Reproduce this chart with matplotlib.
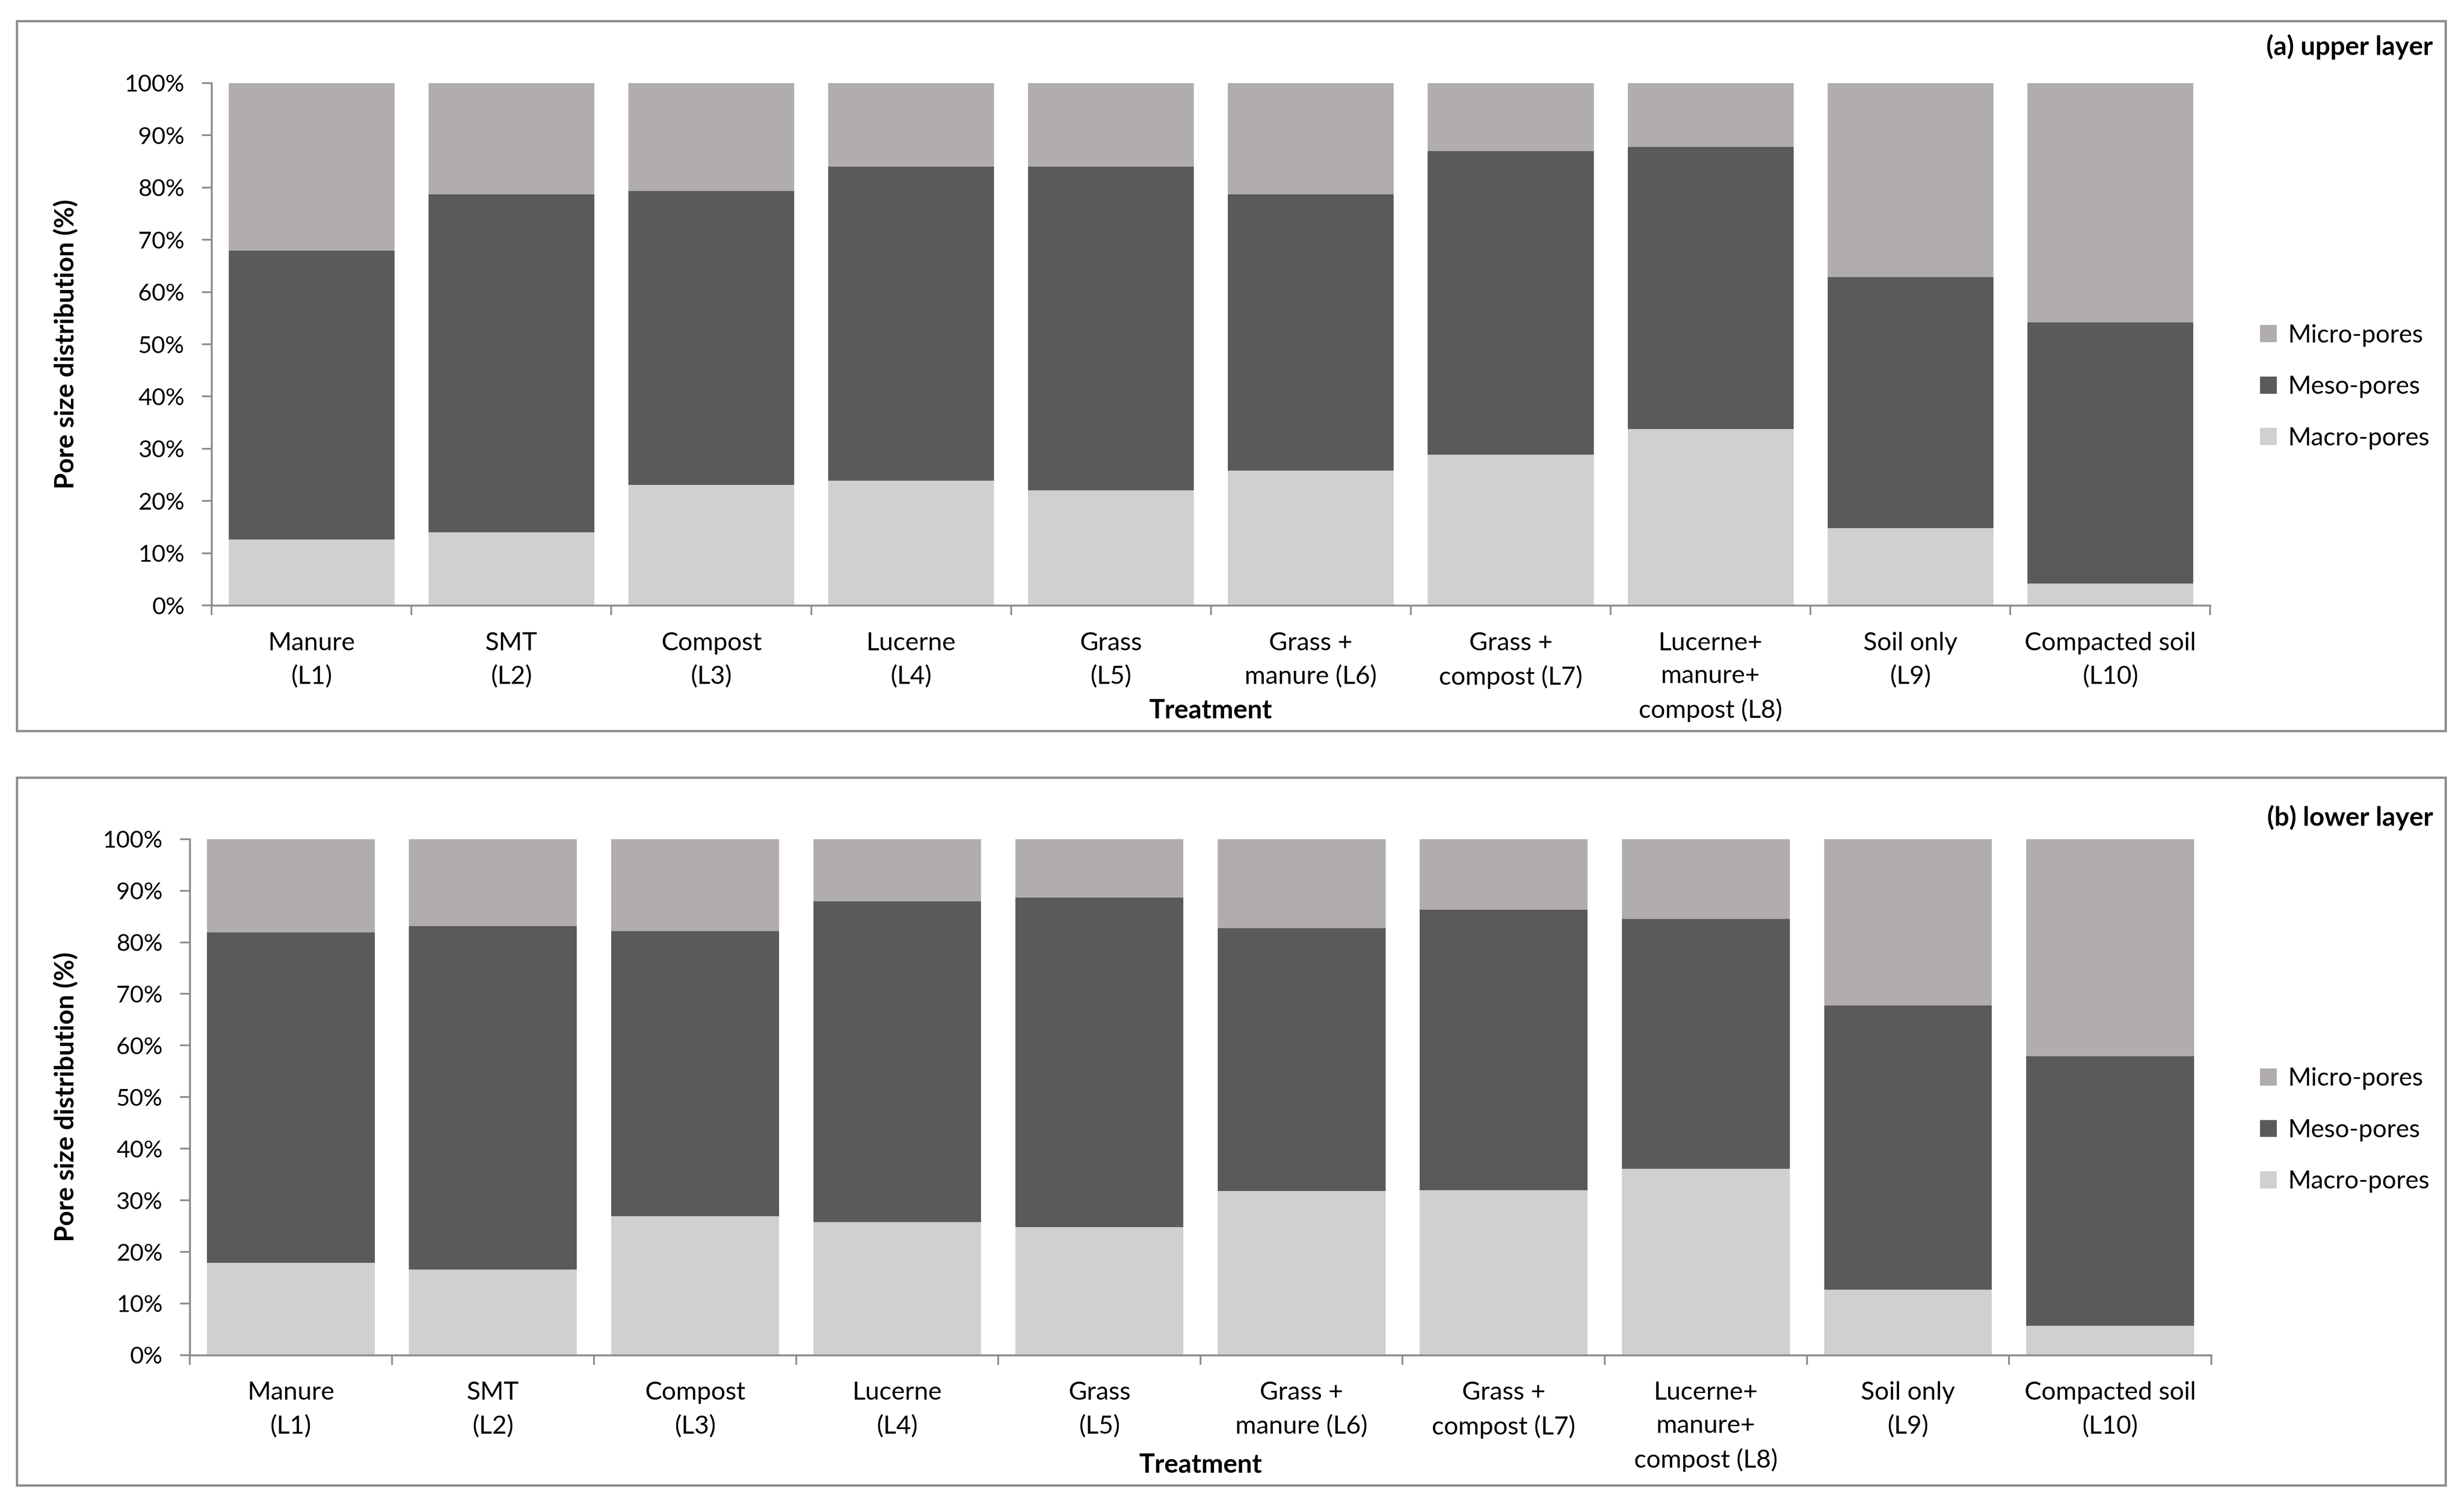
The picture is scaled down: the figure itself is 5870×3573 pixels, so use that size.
import matplotlib
matplotlib.use("Agg")
import matplotlib.pyplot as plt
from matplotlib.patches import Rectangle
import numpy as np

plt.rcParams['font.family'] = ['Lato', 'DejaVu Sans']

# treatments
labels = ["Manure\n(L1)", "SMT\n(L2)", "Compost\n(L3)", "Lucerne\n(L4)", "Grass\n(L5)",
          "Grass +\nmanure (L6)", "Grass +\ncompost (L7)", "Lucerne+\nmanure+\ncompost (L8)",
          "Soil only\n(L9)", "Compacted soil\n(L10)"]

# (a) upper layer, % of each pore class
macro_a = [12.6, 14.0, 23.1, 23.9, 22.0, 25.8, 28.9, 33.8, 14.8, 4.2]
meso_a = [55.3, 64.7, 56.2, 60.1, 62.0, 52.9, 58.1, 54.0, 48.1, 50.0]
micro_a = [32.1, 21.3, 20.7, 16.0, 16.0, 21.3, 13.0, 12.2, 37.1, 45.8]

# (b) lower layer
macro_b = [17.9, 16.6, 26.9, 25.8, 24.8, 31.8, 32.0, 36.1, 12.7, 5.7]
meso_b = [64.0, 66.5, 55.3, 62.1, 63.9, 50.9, 54.3, 48.4, 55.1, 52.2]
micro_b = [18.1, 16.9, 17.8, 12.1, 11.3, 17.3, 13.7, 15.5, 32.2, 42.1]

c_micro = "#b0adac"
c_meso = "#5a5a5a"
c_macro = "#d1d0cf"
axis_col = "#8c8c8c"
fs_tick = 14.5
fs_y = 13.5
fs_leg = 14.3
fs_bold = 15

fig = plt.figure(figsize=(5870 / 300, 3573 / 300), dpi=300)

# panel frames
for y0, h in [(0.5127, 0.4733), (0.0098, 0.4719)]:
    fig.patches.append(Rectangle((0.0068, y0), 0.9857, h, transform=fig.transFigure,
                                 fill=False, edgecolor=axis_col, linewidth=1.3))

panels = [
    ([0.0859, 0.5964, 0.8111, 0.3482], macro_a, meso_a, micro_a, "(a) upper layer", 0.9687, 0.4913, 0.5264, 0.7705, 0.7422),
    ([0.0770, 0.0966, 0.8204, 0.3440], macro_b, meso_b, micro_b, "(b) lower layer", 0.455, 0.4872, 0.0235, 0.2686, 0.2466),
]

x = np.arange(len(labels))
for rect, macro, meso, micro, title, ty, xlx, xly, yly, legy in panels:
    ax = fig.add_axes(rect)
    macro = np.array(macro)
    meso = np.array(meso)
    micro = np.array(micro)
    b1 = ax.bar(x, macro, width=0.83, color=c_macro, label="Macro-pores")
    b2 = ax.bar(x, meso, width=0.83, bottom=macro, color=c_meso, label="Meso-pores")
    b3 = ax.bar(x, micro, width=0.83, bottom=macro + meso, color=c_micro, label="Micro-pores")
    ax.set_xlim(-0.5, len(labels) - 0.5)
    ax.set_ylim(0, 100)
    ax.set_yticks(np.arange(0, 101, 10))
    ax.set_yticklabels([f"{v}%" for v in range(0, 101, 10)], fontsize=fs_y)
    ax.set_xticks(np.arange(-0.5, len(labels), 1.0))
    ax.set_xticklabels([])
    ax.set_xticks(x, minor=True)
    ax.set_xticklabels(labels, minor=True, fontsize=fs_tick, linespacing=1.56, va="top")
    ax.tick_params(axis="x", which="minor", length=0, pad=15)
    ax.tick_params(axis="x", which="major", length=5.5, width=1, color=axis_col, direction="out")
    ax.tick_params(axis="y", length=5.5, width=1, color=axis_col, pad=10)
    for s in ["top", "right"]:
        ax.spines[s].set_visible(False)
    for s in ["left", "bottom"]:
        ax.spines[s].set_color(axis_col)
        ax.spines[s].set_linewidth(1.1)

    fig.text(0.9874, ty, title, ha="right", va="center", fontsize=fs_bold, fontweight="bold")
    fig.text(xlx, xly, "Treatment", ha="center", va="center", fontsize=fs_bold, fontweight="bold")
    fig.text(0.0267, yly, "Pore size distribution (%)", ha="center", va="center",
             rotation=90, fontsize=fs_bold, fontweight="bold")
    fig.legend([b3, b2, b1], ["Micro-pores", "Meso-pores", "Macro-pores"],
               loc="center left", bbox_to_anchor=(0.908, legy), frameon=False,
               fontsize=fs_leg, labelspacing=1.15, handlelength=0.68, handleheight=0.68,
               handletextpad=0.45)

fig.savefig("out.png", dpi=300)
